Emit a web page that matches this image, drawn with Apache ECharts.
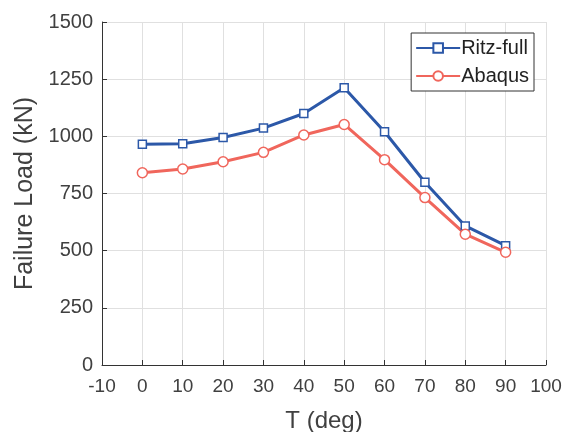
<!DOCTYPE html>
<html>
	<head>
		<meta charset="utf-8" />
		<script type="text/javascript" src="https://cdn.jsdelivr.net/npm/echarts@6/dist/echarts.min.js"></script>
		<title></title>
		<style>
			html, body { margin: 0; padding: 0; background: #fff; }
		</style>
	</head>
	<body>
		<div id="chartmain" style="width:565px; height: 432px;"></div>
		<script type="text/javascript">
var angles = [0, 10, 20, 30, 40, 50, 60, 70, 80, 90];
var ritzFull = [965, 968, 995, 1036, 1100, 1212, 1020, 799, 608, 522];
var abaqus = [841, 857, 889, 930, 1006, 1052, 898, 732, 572, 493];

function pairs(xs, ys) {
  var out = [];
  for (var i = 0; i < xs.length; i++) {
    out.push([xs[i], ys[i]]);
  }
  return out;
}

var font = 'Liberation Sans, Arial, sans-serif';

option = {
  animation: false,
  grid: {
    left: 102,
    right: 19,
    top: 22,
    bottom: 67,
    outerBoundsMode: 'none',
    containLabel: false
  },
  legend: {
    right: 31,
    top: 33,
    orient: 'vertical',
    backgroundColor: '#fff',
    borderColor: '#333',
    borderWidth: 1,
    borderRadius: 0,
    padding: [5, 5, 5, 4],
    itemGap: 8,
    itemWidth: 44,
    itemHeight: 12,
    textStyle: { fontFamily: font, fontSize: 20, color: '#222', padding: [0, 0, 0, -4] },
    data: ['Ritz-full', 'Abaqus']
  },
  xAxis: {
    type: 'value',
    min: -10,
    max: 100,
    interval: 10,
    name: 'T (deg)',
    nameLocation: 'middle',
    nameGap: 44,
    nameTextStyle: { fontFamily: font, fontSize: 24, color: '#404040' },
    axisLine: { show: true, onZero: false, lineStyle: { color: '#333', width: 1 } },
    axisTick: { show: true, inside: true, length: 5, lineStyle: { color: '#333' } },
    axisLabel: { fontFamily: font, fontSize: 19, color: '#404040', margin: 12 },
    splitLine: { show: true, lineStyle: { color: '#e0e0e0', width: 1 } }
  },
  yAxis: {
    type: 'value',
    min: 0,
    max: 1500,
    interval: 250,
    name: 'Failure Load (kN)',
    nameLocation: 'middle',
    nameGap: 64,
    nameTextStyle: { fontFamily: font, fontSize: 25, color: '#404040' },
    axisLine: { show: true, onZero: false, lineStyle: { color: '#333', width: 1 } },
    axisTick: { show: true, inside: true, length: 5, lineStyle: { color: '#333' } },
    axisLabel: { fontFamily: font, fontSize: 20, color: '#404040', margin: 9, formatter: function (v) { return String(v); } },
    splitLine: { show: true, lineStyle: { color: '#e0e0e0', width: 1 } }
  },
  series: [
    {
      name: 'Ritz-full',
      type: 'line',
      data: pairs(angles, ritzFull),
      symbol: 'rect',
      symbolSize: 8,
      color: '#2c58a8',
      lineStyle: { width: 3, color: '#2c58a8' },
      itemStyle: { color: '#fff', borderColor: '#2c58a8', borderWidth: 1.5 }
    },
    {
      name: 'Abaqus',
      type: 'line',
      data: pairs(angles, abaqus),
      symbol: 'circle',
      symbolSize: 10,
      color: '#f0665c',
      lineStyle: { width: 3, color: '#f0665c' },
      itemStyle: { color: '#fff', borderColor: '#f0665c', borderWidth: 1.5 }
    }
  ]
};
			var myChart = echarts.init(document.getElementById('chartmain'));
			myChart.setOption(option);
		</script>
	</body>
</html>
